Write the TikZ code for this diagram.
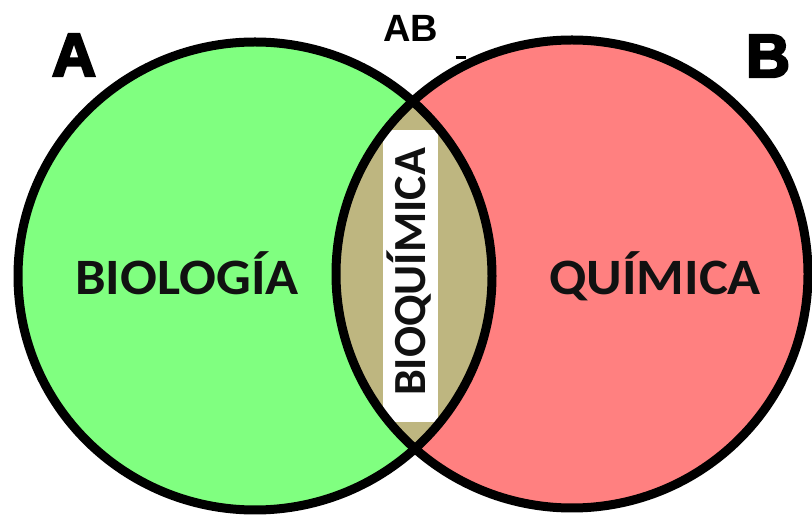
\documentclass[tikz,border=0pt]{standalone}
\usepackage{fontspec}
\setmainfont{Carlito}
\newfontfamily\arialbold{Liberation Sans}[BoldFont={* Bold}]
\newfontfamily\heavyfont{Liberation Sans Bold}[FakeBold=4]
\definecolor{setA}{RGB}{128,255,128}
\definecolor{setB}{RGB}{255,128,128}
\definecolor{lensC}{RGB}{190,182,128}
\definecolor{inkC}{RGB}{17,17,17}
\tikzset{
  outline/.style={draw=black,line width=9pt},
  bigletter/.style={font=\heavyfont\fontsize{61}{61}\selectfont,text=black,inner sep=0pt,anchor=base},
  setlabel/.style={font=\bfseries\fontsize{51}{52}\selectfont,text=inkC,inner sep=0pt,anchor=base,xscale=1.07},
}
\begin{document}
\begin{tikzpicture}[x=1pt,y=-1pt]
\useasboundingbox (0,0) rectangle (812,518);
% fills
\fill[setA] (255,276) ellipse [x radius=237, y radius=234];
\fill[setB] (572,274) ellipse [x radius=236, y radius=234];
\begin{scope}
  \clip (255,276) ellipse [x radius=237, y radius=234];
  \fill[lensC] (572,274) ellipse [x radius=236, y radius=234];
\end{scope}
\fill[white] (383,130) rectangle (438,422);
% outlines
\draw[outline] (255,276) ellipse [x radius=237, y radius=234];
\draw[outline] (572,274) ellipse [x radius=236, y radius=234];
% labels
\node[bigletter] (lblA) at (74,76) {A};
\node[bigletter] (lblB) at (768,77) {B};
\node[font=\arialbold\bfseries\fontsize{38}{38}\selectfont,inner sep=0pt,anchor=base] (lblAB) at (411,42) {AB};
\fill[black] (456,56) rectangle (466,59);
\node[setlabel] (bio) at (187,295) {BIOLOGÍA};
\node[setlabel] (qui) at (655,295) {QUÍMICA};
\node[font=\bfseries\fontsize{46}{46}\selectfont,text=inkC,inner sep=0pt,anchor=base,rotate=90] (bioq) at (425,272) {BIOQUÍMICA};
\end{tikzpicture}
\end{document}
